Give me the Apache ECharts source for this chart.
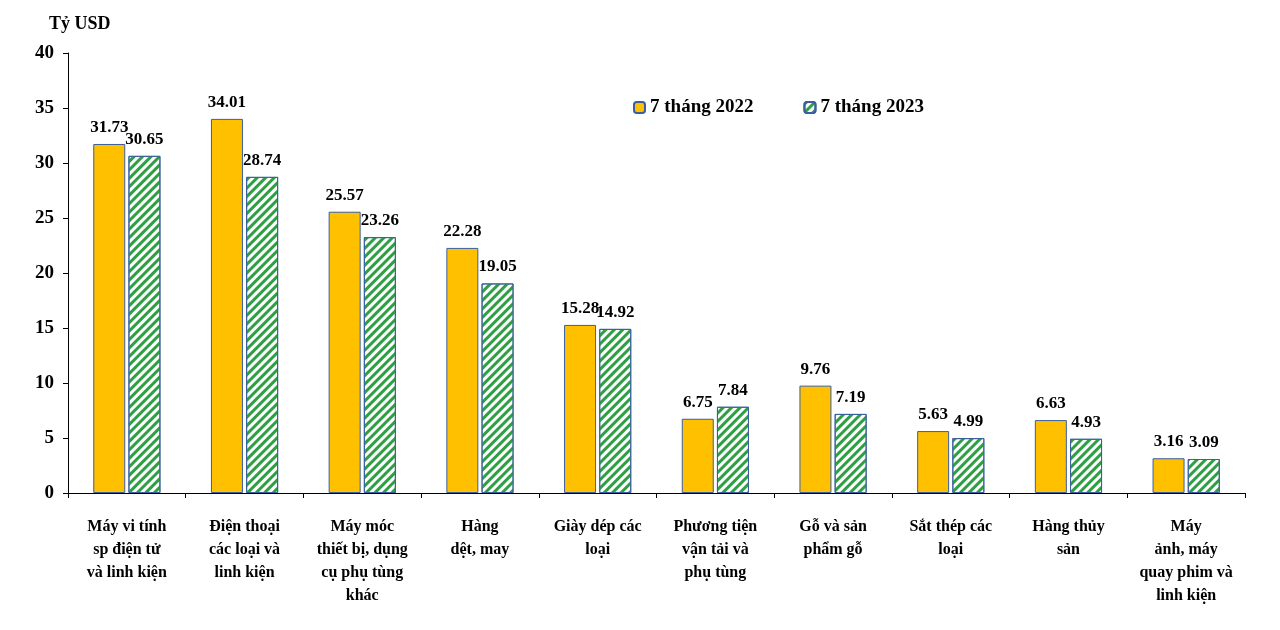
<!DOCTYPE html>
<html><head><meta charset="utf-8">
<script src="https://cdn.jsdelivr.net/npm/echarts@6/dist/echarts.min.js"></script>
<style>html,body{margin:0;padding:0;background:#fff}#c{width:1280px;height:630px}</style>
</head><body><div id="c"></div>
<script>
const categories = ["Máy vi tính\nsp điện tử\nvà linh kiện","Điện thoại\ncác loại và\nlinh kiện","Máy móc\nthiết bị, dụng\ncụ phụ tùng\nkhác","Hàng\ndệt, may","Giày dép các\nloại","Phương tiện\nvận tải và\nphụ tùng","Gỗ và sản\nphẩm gỗ","Sắt thép các\nloại","Hàng thủy\nsản","Máy\nảnh, máy\nquay phim và\nlinh kiện"];
const s2022 = [31.73,34.01,25.57,22.28,15.28,6.75,9.76,5.63,6.63,3.16];
const s2023 = [30.65,28.74,23.26,19.05,14.92,7.84,7.19,4.99,4.93,3.09];
const yTicks = {min:0,max:40,interval:5};
const F = '"Liberation Serif","Times New Roman",serif';
const lbl = {show:true,position:'top',distance:8,fontFamily:F,fontWeight:'bold',fontSize:17,color:'#000',formatter:p=>p.value.toFixed(2)};
const chart = echarts.init(document.getElementById('c'));
chart.setOption({
  animation:false,
  grid:{left:68,right:35,top:53,bottom:137},
  title:{text:'Tỷ USD',left:44,top:10,textStyle:{fontFamily:F,fontWeight:'bold',fontSize:18,color:'#000'}},
  legend:{left:628,top:93,itemWidth:11,itemHeight:11,itemGap:50,textStyle:{fontFamily:F,fontWeight:'bold',fontSize:19,color:'#000'}},
  xAxis:{type:'category',data:categories,axisLine:{lineStyle:{color:'#000'}},axisTick:{show:true,alignWithLabel:false,lineStyle:{color:'#000'}},
    axisLabel:{interval:0,margin:22,fontFamily:F,fontWeight:'bold',fontSize:16,color:'#000',lineHeight:23}},
  yAxis:{type:'value',...yTicks,axisLine:{show:true,lineStyle:{color:'#000'}},axisTick:{show:true,lineStyle:{color:'#000'}},splitLine:{show:false},
    axisLabel:{fontFamily:F,fontWeight:'bold',fontSize:19,color:'#000',margin:14}},
  series:[
    {name:'7 tháng 2022',type:'bar',data:s2022,barWidth:32,barGap:'10%',itemStyle:{color:'#FFC000',borderColor:'#3a5f9f',borderWidth:1},label:lbl},
    {name:'7 tháng 2023',type:'bar',data:s2023,barWidth:32,itemStyle:{color:'#ffffff',borderColor:'#3a5f9f',borderWidth:1,
      decal:{symbol:'rect',symbolSize:1,dashArrayX:[[1,0]],dashArrayY:[3,3],rotation:-Math.PI/4,color:'#2ea043'}},label:lbl}
  ]
});
</script></body></html>
